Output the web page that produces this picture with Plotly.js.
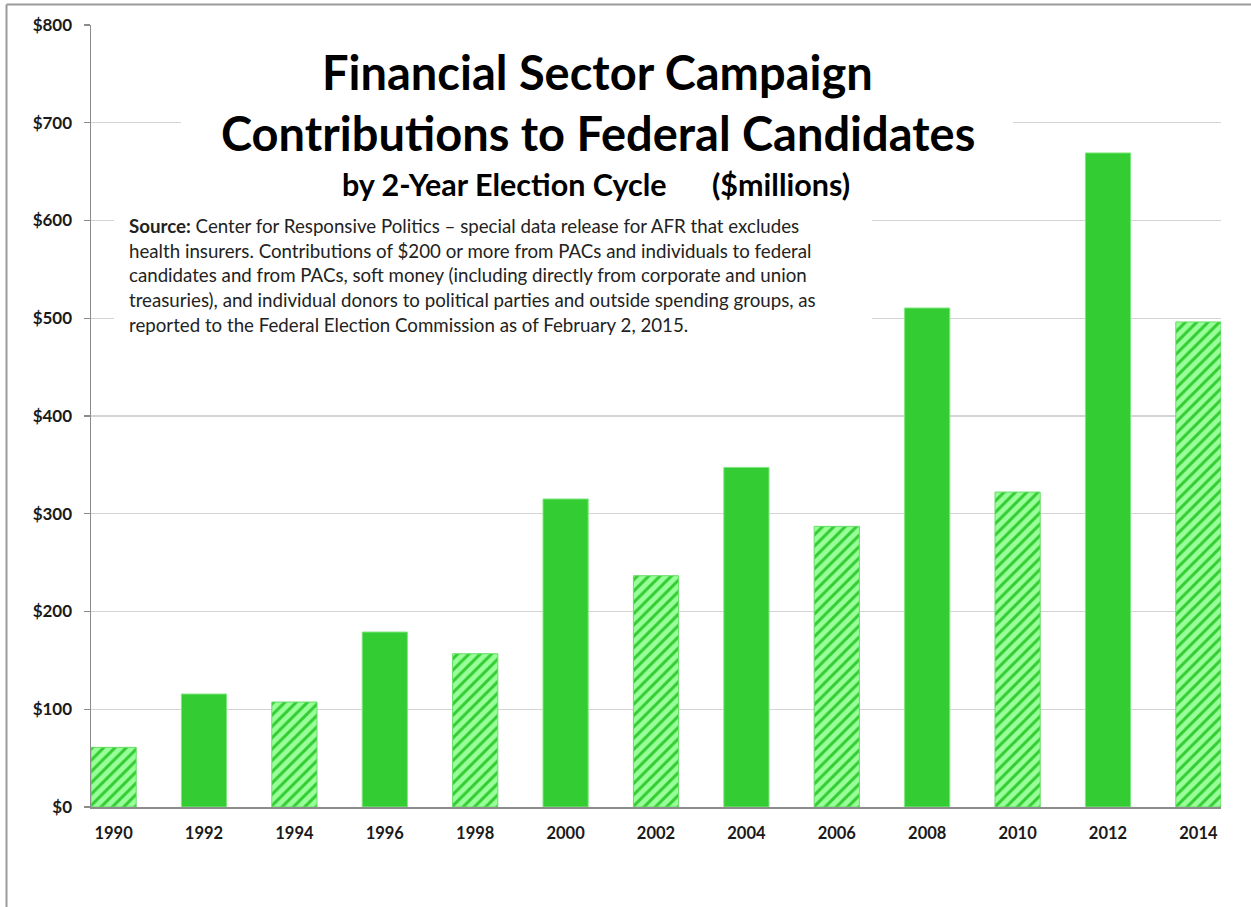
<!DOCTYPE html>
<html>
<head>
<meta charset="utf-8">
<script src="https://cdn.plot.ly/plotly-3.0.1.min.js"></script>
<style>
  html, body { margin: 0; padding: 0; background: #ffffff; }
  #chart { width: 1251px; height: 907px; }
</style>
</head>
<body>
<div id="chart"></div>
<script>
// ---- Data ($ millions) ----
const years = ['1990','1992','1994','1996','1998','2000','2002','2004','2006','2008','2010','2012','2014'];
const contributions = [61, 115.6, 107.4, 179, 156.8, 315.1, 236.6, 347.4, 287.1, 510.5, 322.2, 669.1, 496.2];
const cycleType = ['midterm','presidential','midterm','presidential','midterm','presidential','midterm','presidential','midterm','presidential','midterm','presidential','midterm'];
const yTickValues = [0, 100, 200, 300, 400, 500, 600, 700, 800];
const yTickLabels = ['$0','$100','$200','$300','$400','$500','$600','$700','$800'];

const titleLine1 = 'Financial Sector Campaign';
const titleLine2 = 'Contributions to Federal Candidates';
const subtitleLeft = 'by 2-Year Election Cycle';
const subtitleRight = '($millions)';
const sourceLines = [
  '<b>Source:</b> Center for Responsive Politics \u2013 special data release for AFR that excludes',
  'health insurers. Contributions of $200 or more from PACs and individuals to federal',
  'candidates and from PACs, soft money (including directly from corporate and union',
  'treasuries), and individual donors to political parties and outside spending groups, as',
  'reported to the Federal Election Commission as of February 2, 2015.'
];

// ---- Build traces ----
function pick(type) {
  const x = [], y = [];
  years.forEach((yr, i) => { if (cycleType[i] === type) { x.push(yr); y.push(contributions[i]); } });
  return { x, y };
}
const pres = pick('presidential');
const mid = pick('midterm');

const FONT = 'Lato, "Open Sans", "Liberation Sans", sans-serif';

const traces = [
  {
    type: 'bar', x: pres.x, y: pres.y, width: 0.5,
    marker: { color: '#33CC33', line: { color: '#7FE87F', width: 1 } },
    hoverinfo: 'x+y', showlegend: false
  },
  {
    type: 'bar', x: mid.x, y: mid.y, width: 0.5,
    marker: {
      color: '#99FF99',
      line: { color: '#66DD66', width: 1 },
      pattern: { shape: '/', fgcolor: '#33CC33', bgcolor: '#99FF99', size: 8, solidity: 0.38 }
    },
    hoverinfo: 'x+y', showlegend: false
  }
];

const PX = (p) => (p - 91) / 1130;      // pixel x -> paper x
const PY = (p) => (807 - p) / 782;      // pixel y -> paper y

const sourceAnnotations = sourceLines.map((t, i) => ({
  xref: 'paper', yref: 'paper', x: PX(127), y: PY(226 + i * 24.7),
  xanchor: 'left', yanchor: 'middle', showarrow: false, align: 'left',
  text: t, font: { family: FONT, size: 18.7, color: '#222222' }
}));

const layout = {
  width: 1251, height: 907,
  margin: { l: 91, r: 30, t: 25, b: 100 },
  paper_bgcolor: '#ffffff', plot_bgcolor: '#ffffff',
  barmode: 'overlay',
  showlegend: false,
  xaxis: {
    type: 'category', categoryorder: 'array', categoryarray: years,
    range: [-0.25, 12.25], fixedrange: true,
    showline: true, linecolor: '#8c8c8c', linewidth: 1.5,
    ticks: '', showgrid: false, zeroline: false,
    tickfont: { family: FONT, size: 16.5, color: '#1a1a1a', weight: 'bold' },
    ticklabelstandoff: 11
  },
  yaxis: {
    range: [0, 800], fixedrange: true,
    tickmode: 'array', tickvals: yTickValues, ticktext: yTickLabels,
    showline: true, linecolor: '#8c8c8c', linewidth: 1.5,
    showgrid: true, gridcolor: '#d4d4d4', gridwidth: 1.3,
    zeroline: false,
    ticks: 'outside', ticklen: 6, tickcolor: '#8c8c8c', tickwidth: 1.3,
    tickfont: { family: FONT, size: 17, color: '#1a1a1a', weight: 'bold' },
    ticklabelstandoff: 8
  },
  shapes: [
    // white text boxes covering gridlines (as in the reference)
    { type: 'rect', xref: 'paper', yref: 'paper', layer: 'above',
      x0: PX(181), x1: PX(1013), y0: PY(205), y1: PY(38),
      fillcolor: '#ffffff', line: { width: 0 } },
    { type: 'rect', xref: 'paper', yref: 'paper', layer: 'above',
      x0: PX(114), x1: PX(872), y0: PY(345), y1: PY(205),
      fillcolor: '#ffffff', line: { width: 0 } },
    // outer frame (top and left)
    { type: 'line', xref: 'paper', yref: 'paper', layer: 'above',
      x0: PX(6.5), x1: PX(1260), y0: PY(4.5), y1: PY(4.5),
      line: { color: '#9a9a9a', width: 2 } },
    { type: 'line', xref: 'paper', yref: 'paper', layer: 'above',
      x0: PX(6.5), x1: PX(6.5), y0: PY(4.5), y1: PY(920),
      line: { color: '#9a9a9a', width: 2 } }
  ],
  annotations: [
    { xref: 'paper', yref: 'paper', x: PX(597), y: PY(72), xanchor: 'center', yanchor: 'middle',
      showarrow: false, text: titleLine1,
      font: { family: FONT, size: 47, color: '#000000', weight: 'bold' } },
    { xref: 'paper', yref: 'paper', x: PX(598), y: PY(133), xanchor: 'center', yanchor: 'middle',
      showarrow: false, text: titleLine2,
      font: { family: FONT, size: 47, color: '#000000', weight: 'bold' } },
    { xref: 'paper', yref: 'paper', x: PX(504), y: PY(184), xanchor: 'center', yanchor: 'middle',
      showarrow: false, text: subtitleLeft,
      font: { family: FONT, size: 30.5, color: '#000000', weight: 'bold' } },
    { xref: 'paper', yref: 'paper', x: PX(781), y: PY(184), xanchor: 'center', yanchor: 'middle',
      showarrow: false, text: subtitleRight,
      font: { family: FONT, size: 30.5, color: '#000000', weight: 'bold' } }
  ].concat(sourceAnnotations)
};

Plotly.newPlot('chart', traces, layout, { displayModeBar: false, staticPlot: true });
</script>
</body>
</html>
